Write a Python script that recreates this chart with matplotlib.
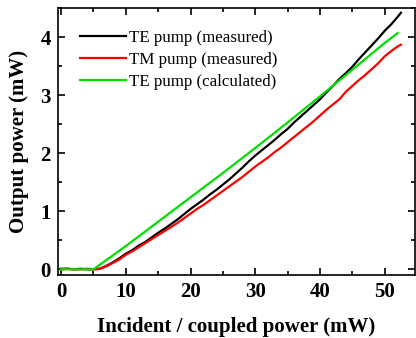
import numpy as np
from matplotlib import pyplot as plt
from matplotlib.ticker import MultipleLocator

# values (mW)
x_meas = [0, 1, 2, 3, 4, 5, 6, 7, 8, 9, 10, 11, 12, 13, 14, 15, 16, 17, 18, 19,
          20, 21, 22, 23, 24, 25, 26, 27, 28, 29, 30, 31, 32, 33, 34, 35, 36, 37,
          38, 39, 40, 41, 42, 43, 44, 45, 46, 47, 48, 49, 50, 51, 52, 52.5]
te_meas = [0.01, 0.01, 0.0, 0.01, 0.0, 0.0, 0.01, 0.06, 0.12, 0.19, 0.27, 0.33,
           0.41, 0.47, 0.55, 0.63, 0.70, 0.78, 0.86, 0.95, 1.04, 1.12, 1.20, 1.29,
           1.37, 1.46, 1.55, 1.65, 1.75, 1.86, 1.96, 2.05, 2.14, 2.23, 2.33, 2.42,
           2.53, 2.63, 2.73, 2.83, 2.93, 3.05, 3.16, 3.28, 3.38, 3.49, 3.62, 3.74,
           3.86, 3.98, 4.11, 4.22, 4.35, 4.42]
tm_meas = [0.0, 0.01, 0.0, 0.0, 0.01, 0.0, 0.01, 0.05, 0.11, 0.17, 0.25, 0.31,
           0.38, 0.45, 0.52, 0.59, 0.66, 0.73, 0.80, 0.88, 0.96, 1.04, 1.11, 1.19,
           1.27, 1.35, 1.43, 1.51, 1.59, 1.68, 1.77, 1.85, 1.93, 2.02, 2.10, 2.19,
           2.28, 2.37, 2.46, 2.55, 2.65, 2.75, 2.84, 2.93, 3.06, 3.16, 3.26, 3.35,
           3.45, 3.55, 3.67, 3.76, 3.84, 3.87]
x_calc = [0, 5, 10, 15, 20, 25, 30, 35, 40, 45, 50, 52]
te_calc = [0.0, 0.0, 0.40, 0.82, 1.24, 1.66, 2.09, 2.53, 2.98, 3.44, 3.90, 4.07]

labels = ['TE pump (measured)', 'TM pump (measured)', 'TE pump (calculated)']

plt.rcParams['font.family'] = 'Liberation Serif'

fig = plt.figure(figsize=(4.16, 3.38), dpi=100)
ax = fig.add_axes([0.139, 0.186, 0.859, 0.79])

ax.plot(x_meas, te_meas, color='black', lw=1.6, label=labels[0])
ax.plot(x_meas, tm_meas, color='#ff0000', lw=1.6, label=labels[1])
ax.plot(x_calc, te_calc, color='#00dd00', lw=1.6, label=labels[2])

ax.set_xlim(-0.5, 54.7)
ax.set_ylim(-0.1, 4.5)
ax.xaxis.set_major_locator(MultipleLocator(10))
ax.xaxis.set_minor_locator(MultipleLocator(5))
ax.yaxis.set_major_locator(MultipleLocator(1))
ax.yaxis.set_minor_locator(MultipleLocator(0.5))
ax.tick_params(which='both', direction='in', top=True, right=True, width=1.2)
ax.tick_params(which='major', length=5, labelsize=15, pad=5)
ax.tick_params(which='minor', length=3)
for lab in ax.get_xticklabels() + ax.get_yticklabels():
    lab.set_fontweight('bold')
for s in ax.spines.values():
    s.set_linewidth(1.2)

ax.set_xlabel('Incident / coupled power (mW)', fontsize=15, fontweight='bold', labelpad=11)
ax.set_ylabel('Output power (mW)', fontsize=15, fontweight='bold', labelpad=8)

ax.legend(loc='upper left', frameon=False, fontsize=12.2, handlelength=2.7,
          handletextpad=0.2, labelspacing=0.35, bbox_to_anchor=(0.02, 0.975))

fig.savefig('out.png', dpi=100)
